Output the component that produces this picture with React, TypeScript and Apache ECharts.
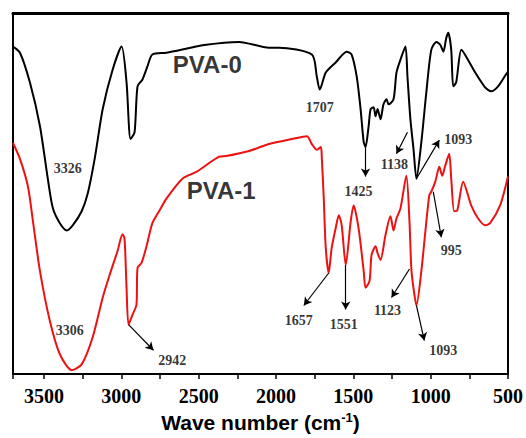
import React, { useEffect, useRef } from "react";
import * as echarts from "echarts";

// PVA-0 (black) spectrum
const pva0Wave = [3700, 3655, 3591, 3526, 3475, 3442, 3397, 3352, 3314, 3256, 3217, 3172, 3120, 3056, 2998, 2966, 2940, 2914, 2895, 2863, 2831, 2799, 2708, 2451, 2238, 2045, 1981, 1768, 1736, 1717, 1678, 1614, 1543, 1511, 1478, 1453, 1433, 1421, 1401, 1388, 1369, 1356, 1343, 1324, 1305, 1285, 1272, 1240, 1221, 1195, 1163, 1150, 1131, 1111, 1092, 1060, 1028, 996, 963, 938, 918, 899, 886, 867, 854, 835, 802, 770, 712, 648, 609, 564, 513, 500];
const pva0T = [90.7, 89.0, 80.8, 68.7, 54.1, 45.9, 41.8, 39.8, 41.2, 45.1, 50.0, 59.6, 73.4, 84.3, 90.7, 80.8, 65.1, 67.0, 79.7, 81.6, 85.2, 88.5, 89.0, 91.2, 92.0, 90.4, 90.4, 88.5, 82.4, 78.8, 83.5, 86.3, 89.3, 88.5, 82.4, 73.4, 64.3, 62.9, 68.7, 73.4, 73.9, 71.4, 73.4, 70.6, 74.7, 76.1, 74.7, 76.1, 83.5, 87.1, 90.7, 82.4, 70.6, 62.4, 54.1, 64.3, 78.0, 89.8, 92.0, 91.2, 89.3, 93.1, 94.5, 89.8, 79.7, 80.8, 89.8, 87.9, 83.5, 79.4, 78.3, 79.7, 83.0, 83.8];

// PVA-1 (red) spectrum
const pva1Wave = [3700, 3655, 3603, 3571, 3526, 3462, 3397, 3320, 3256, 3185, 3120, 3075, 3024, 2992, 2979, 2966, 2953, 2927, 2902, 2895, 2869, 2837, 2799, 2753, 2708, 2605, 2515, 2367, 2322, 2174, 2045, 1897, 1800, 1768, 1736, 1710, 1704, 1691, 1678, 1659, 1640, 1614, 1594, 1575, 1549, 1517, 1498, 1466, 1433, 1421, 1395, 1382, 1356, 1343, 1324, 1292, 1260, 1240, 1221, 1195, 1157, 1137, 1124, 1105, 1092, 1060, 1034, 1009, 996, 970, 944, 925, 906, 880, 867, 848, 828, 790, 738, 693, 648, 616, 551, 500];
const pva1T = [64.0, 59.6, 51.9, 42.3, 28.6, 14.8, 5.5, 1.1, 2.7, 10.2, 21.2, 27.5, 34.1, 38.7, 37.6, 23.9, 13.7, 16.5, 19.2, 29.4, 30.8, 35.4, 41.8, 45.3, 48.6, 54.1, 56.0, 60.2, 60.4, 61.8, 63.7, 65.1, 65.9, 63.7, 62.1, 62.9, 60.2, 48.6, 34.9, 28.0, 34.9, 40.4, 44.0, 41.2, 30.2, 42.3, 46.7, 40.4, 28.6, 23.9, 25.8, 33.0, 35.4, 33.5, 31.6, 38.5, 43.7, 39.8, 43.1, 45.9, 54.9, 42.3, 28.6, 22.0, 19.0, 28.6, 39.6, 49.5, 50.5, 53.3, 57.4, 54.9, 57.7, 61.0, 54.1, 45.1, 45.3, 53.3, 46.7, 43.1, 41.2, 41.8, 46.7, 54.7];

// Peak labels (text, position in data units)
const peakText = ["3326", "3306", "2942", "1707", "1425", "1138", "1093", "1657", "1551", "1123", "1093", "995"];
const peakLabelWave = [3346, 3333, 2670, 1717, 1466, 1234, 822, 1852, 1562, 1279, 918, 867];
const peakLabelT = [56.9, 12.1, 3.8, 73.9, 50.5, 58.0, 65.1, 14.8, 13.7, 17.6, 6.6, 34.1];

// Arrows (from -> to, data units)
const arrowFromWave = [2953, 1421, 1150, 1092, 1659, 1549, 1137, 1092, 983];
const arrowFromT = [13.7, 62.9, 67.0, 54.1, 28.0, 30.2, 29.1, 19.0, 50.5];
const arrowToWave = [2792, 1421, 1221, 944, 1820, 1549, 1253, 1041, 931];
const arrowToT = [6.6, 54.7, 61.0, 64.8, 19.0, 17.9, 21.2, 9.3, 37.9];

// Series names and their label positions
const seriesNames = ["PVA-0", "PVA-1"];
const seriesLabelWave = [2444, 2354];
const seriesLabelT = [85.7, 50.8];

const xTicks = [3500, 3000, 2500, 2000, 1500, 1000, 500];

const SERIF = "Liberation Serif";
const SANS = "Liberation Sans";

export default function App() {
  const ref = useRef<HTMLDivElement>(null);
  useEffect(() => {
    if (!ref.current) return;
    const chart = echarts.init(ref.current, undefined, { renderer: "svg" });
    const pva0 = pva0Wave.map((w, i) => [w, pva0T[i]]);
    const pva1 = pva1Wave.map((w, i) => [w, pva1T[i]]);
    const peaks = peakText.map((t, i) => ({
      value: [peakLabelWave[i], peakLabelT[i]],
      label: { formatter: t },
    }));
    const names = seriesNames.map((t, i) => ({
      value: [seriesLabelWave[i], seriesLabelT[i]],
      label: { formatter: t },
    }));
    const arrows = arrowFromWave.map((w, i) => [
      { coord: [w, arrowFromT[i]] },
      { coord: [arrowToWave[i], arrowToT[i]] },
    ]);
    chart.setOption({
      animation: false,
      backgroundColor: "#fff",
      textStyle: { fontFamily: SERIF, fontWeight: "bold", color: "#000" },
      grid: {
        left: 13,
        right: 16,
        top: 13,
        bottom: 61,
        show: true,
        borderColor: "#000",
        borderWidth: 2,
        backgroundColor: "transparent",
      },
      xAxis: [
        {
          type: "value",
          inverse: true,
          min: 500,
          max: 3700,
          interval: 500,
          name: "Wave number (cm{sup|-1})",
          nameLocation: "middle",
          nameGap: 31,
          nameTextStyle: {
            fontFamily: SANS,
            fontWeight: "bold",
            fontSize: 21,
            color: "#000",
            rich: {
              sup: {
                fontFamily: SANS,
                fontWeight: "bold",
                fontSize: 13,
                color: "#000",
                verticalAlign: "top",
                padding: [0, 0, 10, 0],
              },
            },
          },
          axisLine: { show: true, onZero: false, lineStyle: { color: "#000", width: 2 } },
          axisTick: { show: true, inside: false, length: 5, lineStyle: { color: "#000", width: 1.5 } },
          minorTick: { show: true, splitNumber: 2, length: 5, lineStyle: { color: "#000", width: 1.5 } },
          splitLine: { show: false },
          axisLabel: {
            margin: 12,
            fontFamily: SERIF,
            fontWeight: "bold",
            fontSize: 20,
            color: "#000",
            formatter: (v: number) => (xTicks.includes(v) ? String(v) : ""),
          },
        },
        {
          type: "value",
          position: "top",
          inverse: true,
          min: 500,
          max: 3700,
          interval: 500,
          axisLine: { show: true, onZero: false, lineStyle: { color: "#000", width: 3 } },
          axisTick: { show: false },
          axisLabel: { show: false },
          splitLine: { show: false },
        },
      ],
      yAxis: {
        type: "value",
        min: 0,
        max: 100,
        show: false,
      },
      series: [
        {
          type: "line",
          name: "PVA-0",
          data: pva0,
          showSymbol: false,
          smooth: 0.25,
          lineStyle: { color: "#000", width: 2 },
          z: 3,
        },
        {
          type: "line",
          name: "PVA-1",
          data: pva1,
          showSymbol: false,
          smooth: 0.25,
          lineStyle: { color: "#ee1111", width: 2 },
          z: 3,
          markLine: {
            silent: true,
            symbol: ["none", "arrow"],
            symbolSize: [7, 8],
            label: { show: false },
            lineStyle: { color: "#000", width: 1.2, type: "solid" },
            data: arrows,
          },
        },
        {
          type: "scatter",
          data: peaks,
          symbolSize: 0,
          silent: true,
          label: {
            show: true,
            position: "inside",
            fontFamily: SERIF,
            fontWeight: "bold",
            fontSize: 14,
            color: "#000",
          },
          z: 5,
        },
        {
          type: "scatter",
          data: names,
          symbolSize: 0,
          silent: true,
          label: {
            show: true,
            position: "inside",
            fontFamily: SANS,
            fontWeight: "bold",
            fontSize: 24,
            color: "#000",
          },
          z: 5,
        },
      ],
    });
    return () => chart.dispose();
  }, []);
  return (
    <div
      ref={ref}
      style={{ position: "absolute", left: 0, top: 0, width: 526, height: 438, background: "#fff" }}
    />
  );
}
